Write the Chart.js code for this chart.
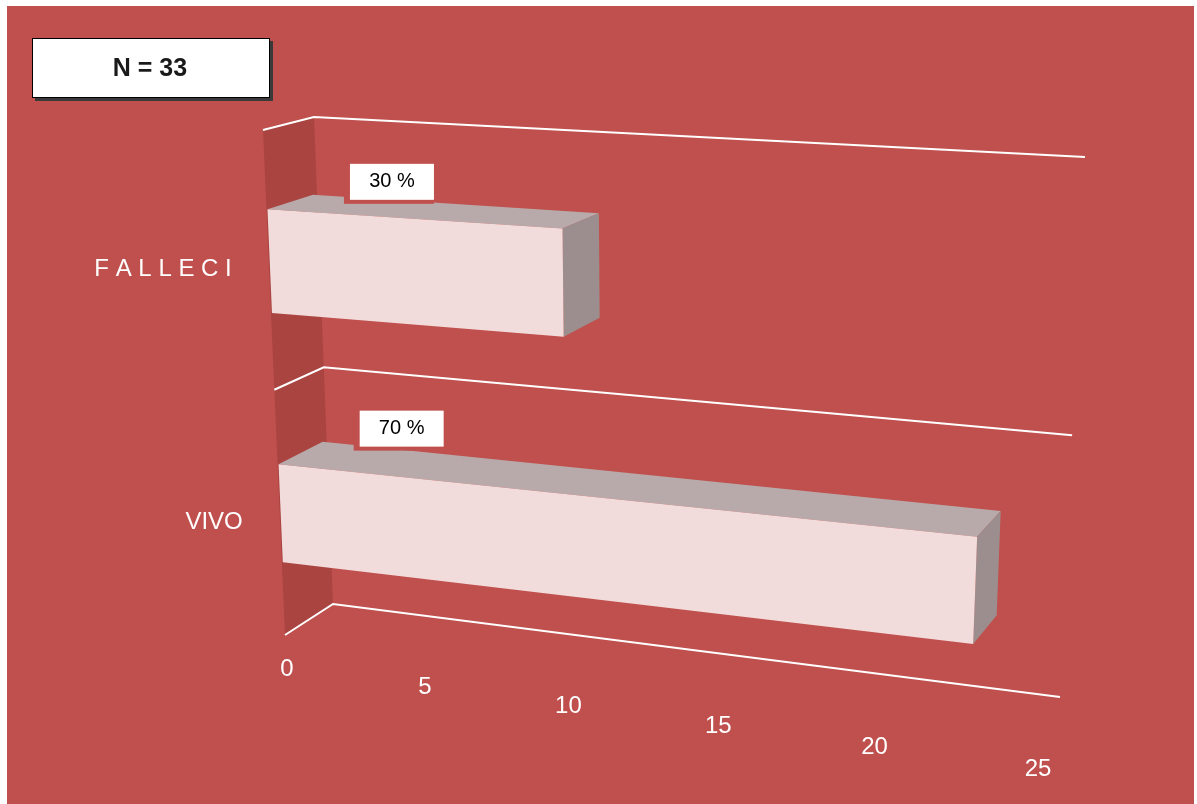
<!DOCTYPE html>
<html>
<head>
<meta charset="utf-8">
<script src="https://cdn.jsdelivr.net/npm/chart.js@4/dist/chart.umd.min.js"></script>
<style>
  html, body { margin: 0; padding: 0; background: #ffffff; }
  canvas { display: block; }
</style>
</head>
<body>
<canvas id="chart" width="1197" height="804"></canvas>
<script>
// Data
const categories = ["F A L L E C I", "VIVO"];
const counts = [10, 23];
const valueTicks = [0, 5, 10, 15, 20, 25];

// Warna
const bgColor = "#C0504D";
const wallColor = "#A94441";
const frontColor = "#F2DCDB";
const topColor = "#B8AAAA";
const sideColor = "#9C8E8E";

// Bidang depan & belakang kotak 3D (u = nilai 0..1, w = kategori 0..1)
const frontQuad = [[263, 130], [1061, 173], [1036, 732], [285, 635]];
const backQuad = [[314, 117], [1085, 157], [1060, 697], [333, 604]];
const barDepth = [0.02, 0.92];

// Homografi persegi satuan -> segiempat
function quadMap(q) {
  const [p0, p1, p2, p3] = q;
  const dx1 = p1[0] - p2[0], dx2 = p3[0] - p2[0], dx3 = p0[0] - p1[0] + p2[0] - p3[0];
  const dy1 = p1[1] - p2[1], dy2 = p3[1] - p2[1], dy3 = p0[1] - p1[1] + p2[1] - p3[1];
  const den = dx1 * dy2 - dx2 * dy1;
  const g = (dx3 * dy2 - dx2 * dy3) / den;
  const h = (dx1 * dy3 - dx3 * dy1) / den;
  const a = p1[0] - p0[0] + g * p1[0], b = p3[0] - p0[0] + h * p3[0], c = p0[0];
  const d = p1[1] - p0[1] + g * p1[1], e = p3[1] - p0[1] + h * p3[1], f = p0[1];
  return (u, w) => {
    const z = g * u + h * w + 1;
    return [(a * u + b * w + c) / z, (d * u + e * w + f) / z];
  };
}
const front = quadMap(frontQuad);
const back = quadMap(backQuad);

// titik 3D: d = 0 depan, d = 1 belakang
function P(u, w, d) {
  const f = front(u, w), b = back(u, w);
  return [f[0] + (b[0] - f[0]) * d, f[1] + (b[1] - f[1]) * d];
}

function poly(ctx, pts, fill) {
  ctx.beginPath();
  ctx.moveTo(pts[0][0], pts[0][1]);
  for (let i = 1; i < pts.length; i++) ctx.lineTo(pts[i][0], pts[i][1]);
  ctx.closePath();
  ctx.fillStyle = fill;
  ctx.fill();
}

function line(ctx, pts) {
  ctx.beginPath();
  ctx.moveTo(pts[0][0], pts[0][1]);
  for (let i = 1; i < pts.length; i++) ctx.lineTo(pts[i][0], pts[i][1]);
  ctx.stroke();
}

const total = counts.reduce((s, v) => s + v, 0);

const bar3d = {
  id: "bar3d",
  beforeDraw(chart) {
    const ctx = chart.ctx;
    ctx.save();
    ctx.fillStyle = "#ffffff";
    ctx.fillRect(0, 0, chart.width, chart.height);
    ctx.fillStyle = bgColor;
    ctx.fillRect(7, 6, 1187, 798);
    ctx.restore();
  },
  afterDraw(chart) {
    const ctx = chart.ctx;
    const xs = chart.scales.x, ys = chart.scales.y;
    const toU = px => (px - xs.left) / xs.width;
    const toW = py => (py - ys.top) / ys.height;
    ctx.save();

    // dinding kiri
    poly(ctx, [P(0, 0, 0), P(0, 0, 1), P(0, 1, 1), P(0, 1, 0)], wallColor);

    // garis kisi (batas kategori)
    ctx.strokeStyle = "#ffffff";
    ctx.lineWidth = 2;
    const nCat = categories.length;
    for (let i = 0; i <= nCat; i++) {
      const w = i / nCat;
      line(ctx, [P(0, w, 0), P(0, w, 1), P(1, w, 1)]);
    }

    // batang 3D
    const meta = chart.getDatasetMeta(0);
    const [d0, d1] = barDepth;
    meta.data.forEach((el, i) => {
      const u0 = toU(el.base), u1 = toU(el.x);
      const w0 = toW(el.y - el.height / 2), w1 = toW(el.y + el.height / 2);
      poly(ctx, [P(u0, w0, d0), P(u1, w0, d0), P(u1, w0, d1), P(u0, w0, d1)], topColor);
      poly(ctx, [P(u1, w0, d0), P(u1, w0, d1), P(u1, w1, d1), P(u1, w1, d0)], sideColor);
      poly(ctx, [P(u0, w0, d0), P(u1, w0, d0), P(u1, w1, d0), P(u0, w1, d0)], frontColor);

      // label persen
      const a = P(u0, w0, d1);
      const bx = a[0] + 37, by = a[1] + 5 - 36;
      ctx.fillStyle = bgColor;
      ctx.fillRect(bx - 6, by, 90, 40);
      ctx.fillStyle = "#ffffff";
      ctx.fillRect(bx, by, 84, 36);
      ctx.fillStyle = "#000000";
      ctx.font = "20px 'Liberation Sans', Arial, sans-serif";
      ctx.textAlign = "center";
      ctx.textBaseline = "middle";
      ctx.fillText(Math.round(counts[i] / total * 100) + " %", bx + 42, by + 18);
    });

    // label sumbu nilai
    ctx.fillStyle = "#ffffff";
    ctx.font = "24px 'Liberation Sans', Arial, sans-serif";
    ctx.textAlign = "center";
    ctx.textBaseline = "middle";
    valueTicks.forEach(v => {
      const u = toU(xs.getPixelForValue(v));
      const p = P(u, 1, 0);
      ctx.fillText(String(v), p[0] + 2, p[1] + 34 + 3 * u);
    });

    // label kategori
    ctx.textAlign = "right";
    categories.forEach((c, i) => {
      const p = P(0, toW(ys.getPixelForValue(i)), 0);
      ctx.fillText(c, p[0] - 37, p[1] + 8);
    });

    // kotak N
    ctx.fillStyle = "#3a3a3a";
    ctx.fillRect(35, 41, 238, 60);
    ctx.fillStyle = "#ffffff";
    ctx.fillRect(32, 38, 238, 60);
    ctx.strokeStyle = "#000000";
    ctx.lineWidth = 1;
    ctx.strokeRect(32.5, 38.5, 237, 59);
    ctx.fillStyle = "#1a1a1a";
    ctx.font = "bold 25px 'Liberation Sans', Arial, sans-serif";
    ctx.textAlign = "center";
    ctx.fillText("N = " + total, 150, 69);

    ctx.restore();
  }
};

new Chart(document.getElementById("chart"), {
  type: "bar",
  data: {
    labels: categories,
    datasets: [{
      data: counts,
      backgroundColor: "rgba(0,0,0,0)",
      barPercentage: 0.4,
      categoryPercentage: 1
    }]
  },
  options: {
    indexAxis: "y",
    responsive: false,
    animation: false,
    layout: { padding: 0 },
    plugins: { legend: { display: false }, tooltip: { enabled: false } },
    scales: {
      x: { display: false, min: 0, max: 25 },
      y: { display: false }
    }
  },
  plugins: [bar3d]
});
</script>
</body>
</html>
